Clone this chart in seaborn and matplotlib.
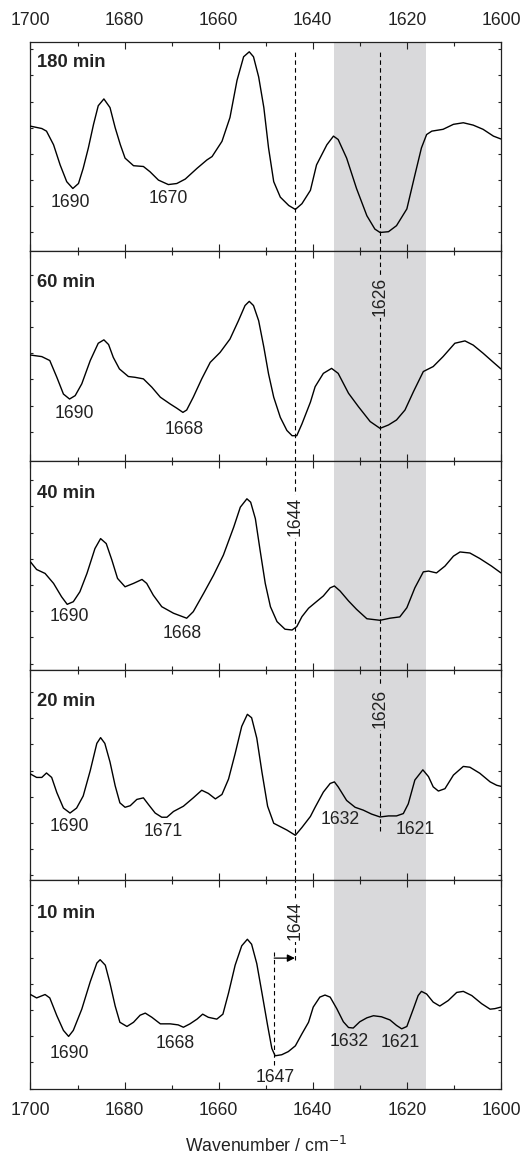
import numpy as np
import pandas as pd
import matplotlib
matplotlib.use("Agg")
import matplotlib.pyplot as plt
import seaborn as sns
from matplotlib.ticker import MultipleLocator

# ---------------- data ----------------
panel_names = ["180 min", "60 min", "40 min", "20 min", "10 min"]

wn_180 = [1700.0, 1697.6, 1696.6, 1695.1, 1693.7, 1692.3, 1691.0, 1689.8, 1688.8, 1687.7,
          1686.6, 1685.6, 1684.4, 1683.1, 1682.0, 1680.9, 1679.9, 1678.1, 1676.0, 1674.6,
          1672.8, 1670.7, 1668.9, 1667.1, 1664.6, 1662.5, 1661.4, 1659.3, 1657.6, 1656.1,
          1654.7, 1653.5, 1652.6, 1651.5, 1650.4, 1649.4, 1648.3, 1646.9, 1645.1, 1643.7,
          1642.3, 1640.5, 1639.2, 1637.0, 1635.6, 1634.6, 1632.8, 1630.7, 1628.5, 1626.8,
          1625.7, 1623.9, 1622.2, 1620.0, 1618.3, 1616.9, 1615.8, 1614.7, 1612.3, 1610.1,
          1608.0, 1605.9, 1603.8, 1601.6, 1600.0]
ab_180 = [4.77, 4.68, 4.58, 4.06, 3.29, 2.65, 2.39, 2.58, 3.16, 3.94,
          4.84, 5.55, 5.81, 5.48, 4.71, 4.06, 3.55, 3.26, 3.23, 3.03,
          2.71, 2.54, 2.58, 2.75, 3.16, 3.48, 3.61, 4.19, 5.10, 6.52,
          7.42, 7.61, 7.42, 6.65, 5.48, 3.94, 2.65, 2.06, 1.74, 1.59,
          1.81, 2.32, 3.29, 4.06, 4.39, 4.26, 3.55, 2.39, 1.35, 0.84,
          0.71, 0.74, 0.97, 1.61, 2.90, 3.94, 4.45, 4.58, 4.65, 4.84,
          4.90, 4.81, 4.65, 4.39, 4.28]

wn_60 = [1700.0, 1697.6, 1695.9, 1694.4, 1693.0, 1691.7, 1690.5, 1689.1, 1687.3, 1685.6,
         1684.4, 1683.4, 1682.4, 1681.1, 1679.2, 1677.8, 1676.0, 1674.2, 1672.4, 1670.3,
         1668.9, 1667.6, 1666.8, 1665.4, 1663.6, 1661.8, 1659.7, 1657.6, 1655.8, 1654.4,
         1653.5, 1652.6, 1651.5, 1650.4, 1649.4, 1648.3, 1646.9, 1645.5, 1644.4, 1643.4,
         1642.3, 1640.5, 1639.5, 1637.75, 1636.0, 1634.6, 1632.4, 1630.3, 1627.8, 1625.7,
         1623.9, 1622.2, 1620.4, 1618.6, 1616.5, 1614.4, 1612.3, 1609.8, 1607.65, 1605.9,
         1603.8, 1601.6, 1600.0]
ab_60 = [4.03, 3.97, 3.82, 3.18, 2.54, 2.35, 2.48, 2.93, 3.82, 4.48,
         4.61, 4.43, 3.94, 3.50, 3.21, 3.18, 3.12, 2.80, 2.42, 2.16,
         2.00, 1.84, 1.93, 2.42, 3.12, 3.75, 4.13, 4.64, 5.34, 5.92,
         6.08, 5.92, 5.34, 4.33, 3.31, 2.42, 1.65, 1.15, 0.95, 0.95,
         1.40, 2.23, 2.82, 3.33, 3.52, 3.33, 2.57, 2.06, 1.49, 1.23,
         1.36, 1.55, 1.93, 2.63, 3.40, 3.59, 3.97, 4.48, 4.57, 4.41,
         4.10, 3.75, 3.50]

wn_40 = [1700.0, 1698.7, 1696.9, 1695.1, 1693.4, 1692.2, 1690.9, 1689.5, 1688.0, 1686.3,
         1685.1, 1683.9, 1682.7, 1681.5, 1679.9, 1678.1, 1676.3, 1675.3, 1673.9, 1672.1,
         1669.6, 1666.8, 1665.4, 1663.2, 1661.1, 1659.0, 1656.8, 1655.4, 1654.0, 1653.2,
         1652.2, 1651.2, 1650.1, 1649.0, 1647.6, 1645.9, 1644.4, 1643.4, 1642.3, 1640.9,
         1639.5, 1637.75, 1636.3, 1635.4, 1634.2, 1632.4, 1630.7, 1628.5, 1625.7, 1623.6,
         1621.5, 1620.0, 1618.3, 1616.5, 1615.4, 1613.7, 1611.9, 1610.1, 1608.7, 1606.6,
         1604.5, 1602.0, 1600.0]
ab_40 = [4.13, 3.84, 3.69, 3.31, 2.80, 2.51, 2.61, 2.99, 3.69, 4.64,
         5.02, 4.83, 4.20, 3.50, 3.18, 3.31, 3.46, 3.31, 2.86, 2.42,
         2.17, 1.98, 2.23, 2.93, 3.62, 4.39, 5.46, 6.22, 6.54, 6.41,
         5.78, 4.58, 3.31, 2.42, 1.85, 1.56, 1.53, 1.66, 2.04, 2.36,
         2.57, 2.83, 3.14, 3.21, 3.02, 2.64, 2.32, 1.96, 1.90, 1.98,
         2.03, 2.38, 3.14, 3.75, 3.78, 3.71, 3.97, 4.35, 4.51, 4.47,
         4.26, 3.97, 3.71]

wn_20 = [1700.0, 1698.7, 1697.6, 1696.6, 1695.5, 1694.4, 1693.0, 1691.6, 1690.2, 1688.8,
         1687.3, 1685.9, 1685.1, 1684.2, 1683.1, 1682.0, 1681.0, 1679.9, 1678.8, 1677.4,
         1676.0, 1674.9, 1673.5, 1672.1, 1671.0, 1669.6, 1667.5, 1665.4, 1663.6, 1662.2,
         1660.7, 1659.3, 1657.9, 1656.5, 1655.1, 1653.9, 1653.0, 1651.9, 1650.8, 1649.6,
         1648.3, 1646.9, 1645.5, 1643.7, 1642.3, 1640.5, 1639.5, 1637.75, 1636.3, 1635.4,
         1634.6, 1632.8, 1631.0, 1629.25, 1627.5, 1625.7, 1623.9, 1622.2, 1620.75, 1619.7,
         1618.3, 1616.6, 1615.4, 1614.4, 1613.3, 1611.9, 1610.1, 1608.0, 1606.6, 1604.5,
         1602.3, 1600.9, 1600.0]
ab_20 = [4.03, 3.90, 3.90, 4.07, 3.90, 3.32, 2.73, 2.54, 2.73, 3.19,
         4.16, 5.20, 5.42, 5.20, 4.49, 3.58, 2.93, 2.76, 2.82, 3.06,
         3.12, 2.86, 2.54, 2.38, 2.38, 2.60, 2.80, 3.12, 3.41, 3.29,
         3.08, 3.25, 3.84, 4.81, 5.85, 6.31, 6.18, 5.40, 4.10, 2.80,
         2.15, 2.02, 1.89, 1.69, 1.99, 2.41, 2.76, 3.34, 3.67, 3.73,
         3.54, 3.02, 2.76, 2.65, 2.50, 2.39, 2.43, 2.43, 2.52, 2.89,
         3.80, 4.19, 3.93, 3.54, 3.38, 3.47, 3.99, 4.32, 4.29, 4.06,
         3.73, 3.60, 3.56]

wn_10 = [1700.0, 1698.7, 1696.9, 1695.9, 1694.4, 1693.0, 1691.9, 1690.9, 1689.1, 1687.3,
         1685.9, 1685.2, 1684.1, 1683.1, 1682.0, 1681.0, 1679.5, 1678.1, 1676.7, 1675.6,
         1674.2, 1672.4, 1670.3, 1668.6, 1667.5, 1666.1, 1664.6, 1663.4, 1662.2, 1660.4,
         1659.1, 1657.9, 1656.5, 1655.1, 1653.9, 1653.0, 1651.9, 1650.8, 1649.6, 1648.7,
         1648.0, 1646.6, 1645.2, 1643.7, 1642.3, 1640.9, 1639.9, 1638.5, 1637.4, 1636.3,
         1634.9, 1633.5, 1632.4, 1631.4, 1630.0, 1628.5, 1627.1, 1625.4, 1623.6, 1622.2,
         1621.1, 1620.0, 1618.6, 1617.6, 1616.9, 1615.8, 1614.4, 1613.0, 1611.2, 1609.4,
         1608.0, 1606.2, 1604.1, 1602.3, 1601.3, 1600.0]
ab_10 = [3.61, 3.48, 3.61, 3.48, 2.80, 2.24, 2.01, 2.24, 3.05, 4.10,
         4.81, 4.94, 4.73, 4.04, 3.17, 2.55, 2.39, 2.55, 2.82, 2.90,
         2.74, 2.49, 2.49, 2.45, 2.36, 2.49, 2.67, 2.86, 2.74, 2.67,
         2.86, 3.67, 4.73, 5.47, 5.72, 5.53, 4.79, 3.67, 2.43, 1.55,
         1.27, 1.31, 1.43, 1.65, 2.11, 2.55, 3.13, 3.51, 3.59, 3.51,
         3.07, 2.57, 2.35, 2.33, 2.57, 2.72, 2.80, 2.76, 2.64, 2.43,
         2.30, 2.39, 3.07, 3.57, 3.73, 3.63, 3.32, 3.17, 3.38, 3.69,
         3.73, 3.57, 3.26, 3.05, 3.07, 3.13]

spectra_wn = [wn_180, wn_60, wn_40, wn_20, wn_10]
spectra_ab = [ab_180, ab_60, ab_40, ab_20, ab_10]

# peak labels per panel: (text, wavenumber, value)
peak_labels = [
    [("1690", 1691.6, 1.87), ("1670", 1670.7, 2.0)],
    [("1690", 1690.7, 1.81), ("1668", 1667.4, 1.17)],
    [("1690", 1691.7, 2.04), ("1668", 1667.8, 1.39)],
    [("1690", 1691.7, 2.04), ("1671", 1671.7, 1.85), ("1632", 1634.1, 2.28), ("1621", 1618.3, 1.91)],
    [("1690", 1691.7, 1.36), ("1668", 1669.3, 1.73), ("1647", 1648.0, 0.46),
     ("1632", 1632.2, 1.80), ("1621", 1621.5, 1.77)],
]
title_y = [7.2, 6.8, 6.76, 6.79, 6.70]

band = (1635.5, 1616.0)
line_1644 = 1643.8
line_1626 = 1625.7
shift_from = 1648.2
xticks_major = [1700, 1680, 1660, 1640, 1620, 1600]
ytick_offsets = [0.71, 1.1, 0.25, 0.16, 0.02]

# ---------------- style ----------------
sns.set_style("ticks")
plt.rcParams['font.family'] = ['Liberation Sans', 'DejaVu Sans']
plt.rcParams['axes.edgecolor'] = '#222222'
plt.rcParams['axes.linewidth'] = 0.9

fig, axes = plt.subplots(5, 1, figsize=(5.24, 11.55), dpi=100, sharex=True)
fig.subplots_adjust(left=0.0582, right=0.956, top=0.964, bottom=0.0571, hspace=0)

band_color = '#d9d9db'
dash = (0, (4, 3))
fs = 12.7
txt_color = '#222222'

for i, ax in enumerate(axes):
    ax.axvspan(band[0], band[1], color=band_color, lw=0, zorder=0)
    df = pd.DataFrame({"wn": spectra_wn[i], "ab": spectra_ab[i]})
    sns.lineplot(data=df, x="wn", y="ab", ax=ax, color='black', lw=1.0,
                 sort=False, estimator=None, zorder=3)
    ax.set_xlim(1700, 1600)
    ax.set_ylim(0, 8)
    ax.set_xlabel("")
    ax.set_ylabel("")
    ax.set_xticks(xticks_major)
    ax.xaxis.set_minor_locator(MultipleLocator(10))
    ax.set_yticks(np.arange(ytick_offsets[i], 8, 1.0))
    ax.tick_params(axis='both', which='both', direction='in', top=True, right=True,
                   labelleft=False, labelsize=fs, colors=txt_color)
    ax.tick_params(axis='x', which='major', length=5, width=0.8, pad=9)
    ax.tick_params(axis='x', which='minor', length=3, width=0.8)
    ax.tick_params(axis='y', which='major', length=2.5, width=0.8)
    if i == 0:
        ax.tick_params(axis='x', labeltop=True, labelbottom=False)
    elif i < 4:
        ax.tick_params(axis='x', labeltop=False, labelbottom=False)
    else:
        ax.tick_params(axis='x', labeltop=False, labelbottom=True)
    ax.text(1698.6, title_y[i], panel_names[i], fontsize=13.2, fontweight='bold',
            ha='left', va='center', color=txt_color)
    for t, x, y in peak_labels[i]:
        ax.text(x, y, t, fontsize=fs, ha='center', va='center', color=txt_color, zorder=4)

# dashed reference lines
axes[0].vlines([line_1644, line_1626], 0, 7.7, colors='black', lw=0.8, linestyles=dash, zorder=2)
for ax in axes[1:3]:
    ax.vlines([line_1644, line_1626], 0, 8, colors='black', lw=0.8, linestyles=dash, zorder=2)
axes[3].vlines(line_1644, 0, 8, colors='black', lw=0.8, linestyles=dash, zorder=2)
axes[3].vlines(line_1626, 1.85, 8, colors='black', lw=0.8, linestyles=dash, zorder=2)
axes[4].vlines(line_1644, 4.91, 8, colors='black', lw=0.8, linestyles=dash, zorder=2)
axes[4].vlines(shift_from, 0.9, 5.25, colors='black', lw=0.8, linestyles=dash, zorder=2)
axes[4].annotate('', xy=(line_1644, 5.0), xytext=(shift_from, 5.0),
                 arrowprops=dict(arrowstyle='-|>', color='black', lw=0.9,
                                 mutation_scale=11, shrinkA=0, shrinkB=0), zorder=5)

# rotated labels on the reference lines
rot_kw = dict(rotation=90, fontsize=fs, ha='center', va='center', color=txt_color, zorder=6)
axes[1].text(line_1626, 6.26, "1626", bbox=dict(facecolor=band_color, edgecolor='none', pad=1.5), **rot_kw)
axes[3].text(line_1626, 6.55, "1626", bbox=dict(facecolor=band_color, edgecolor='none', pad=1.5), **rot_kw)
axes[2].text(line_1644, 5.87, "1644", bbox=dict(facecolor='white', edgecolor='none', pad=1.5), **rot_kw)
axes[4].text(line_1644, 6.43, "1644", bbox=dict(facecolor='white', edgecolor='none', pad=1.5), **rot_kw)

axes[4].set_xlabel("Wavenumber / cm$^{-1}$", fontsize=fs, color=txt_color, labelpad=12.5)

fig.savefig("out.png", dpi=100)
